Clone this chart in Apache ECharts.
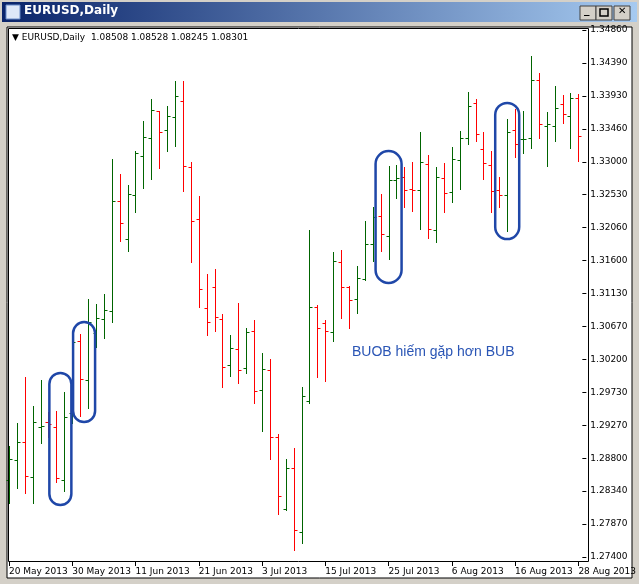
<!DOCTYPE html>
<html>
<head>
<meta charset="utf-8">
<script src="https://cdn.jsdelivr.net/npm/echarts@6/dist/echarts.min.js"></script>
<style>
  html, body { margin: 0; padding: 0; background: #d4d0c8; }
  #chart { width: 639px; height: 584px; }
</style>
</head>
<body>
<div id="chart"></div>
<script>
// ====== data (EURUSD daily, 20 May - 28 Aug 2013) ======
var opens = [1.28490,1.28773,1.29028,1.28532,1.29240,1.29311,1.29240,1.28490,1.29438,1.30457,
  1.29905,1.30571,1.30769,1.30882,1.32439,1.31901,1.32524,1.33076,1.33331,1.33713,
  1.33444,1.33628,1.33855,1.32921,1.32185,1.30925,1.31222,1.30769,1.30118,1.30344,
  1.30075,1.30599,1.29764,1.30047,1.29099,1.28079,1.28660,1.27754,1.29608,1.30939,
  1.30712,1.30585,1.31576,1.31222,1.31052,1.31335,1.31831,1.32227,1.31944,1.32737,
  1.32779,1.32609,1.32595,1.32963,1.32029,1.32765,1.32567,1.33020,1.33331,1.33827,
  1.33175,1.32949,1.32595,1.32524,1.33444,1.33317,1.33331,1.34152,1.33501,1.33501,
  1.33812,1.33643,1.33897];
var highs = [1.28971,1.29297,1.29948,1.29537,1.29905,1.29452,1.29467,1.29736,1.30585,1.30557,
  1.31052,1.30981,1.31123,1.33034,1.32822,1.32666,1.33147,1.33572,1.33883,1.33720,
  1.33784,1.34138,1.34138,1.32991,1.32510,1.31406,1.31477,1.30840,1.30542,1.30995,
  1.30642,1.30755,1.30288,1.30203,1.29141,1.28787,1.28943,1.29806,1.32029,1.30967,
  1.30755,1.31717,1.31746,1.31236,1.31519,1.32156,1.32354,1.32538,1.32935,1.32949,
  1.32921,1.32991,1.33416,1.33090,1.32921,1.32977,1.33204,1.33430,1.33982,1.33883,
  1.33416,1.33147,1.32779,1.33600,1.33742,1.33713,1.34492,1.34251,1.33699,1.34067,
  1.33940,1.33968,1.33954];
var lows = [1.28164,1.28377,1.28306,1.28164,1.29014,1.29099,1.28461,1.28334,1.29297,1.29396,
  1.29509,1.30373,1.30500,1.30726,1.31873,1.31732,1.32284,1.32623,1.32751,1.32906,
  1.33147,1.33218,1.32581,1.31576,1.30939,1.30542,1.30599,1.29806,1.29962,1.29863,
  1.30005,1.29580,1.29183,1.28787,1.28008,1.28065,1.27499,1.27598,1.29580,1.29948,
  1.29891,1.30457,1.30783,1.30642,1.30854,1.31321,1.31590,1.31732,1.31618,1.32482,
  1.32354,1.32298,1.32043,1.31916,1.31859,1.32284,1.32425,1.32609,1.33246,1.33289,
  1.32751,1.32284,1.32354,1.32015,1.33062,1.33119,1.33190,1.33331,1.32935,1.33289,
  1.33543,1.33190,1.33006];
var closes = [1.28787,1.29028,1.28546,1.29311,1.29254,1.29283,1.28518,1.29382,1.30443,1.29920,
  1.30726,1.30783,1.30896,1.32439,1.32128,1.32538,1.33119,1.33345,1.33728,1.33416,
  1.33643,1.33926,1.32935,1.32156,1.31194,1.30726,1.30797,1.30089,1.30358,1.30047,
  1.30585,1.29750,1.30061,1.29099,1.28263,1.28660,1.27782,1.29679,1.30939,1.30642,
  1.30599,1.31590,1.31222,1.31038,1.31349,1.31831,1.32213,1.31972,1.32737,1.32765,
  1.32595,1.32590,1.32991,1.32043,1.32779,1.32553,1.33034,1.33331,1.33784,1.33388,
  1.32977,1.32581,1.32524,1.33416,1.33246,1.33320,1.34152,1.33529,1.33529,1.33756,
  1.33671,1.33897,1.33359];

// price axis labels as MT4 prints them
var priceMin = 1.27400, priceMax = 1.34860;
var priceLabels = ['1.27400','1.27870','1.28340','1.28800','1.29270','1.29730','1.30200','1.30670',
  '1.31130','1.31600','1.32060','1.32530','1.33000','1.33460','1.33930','1.34390','1.34860'];
var priceStep = (priceMax - priceMin) / (priceLabels.length - 1);

// highlighted patterns: [bar index a, bar index b, low, high, half width px]
var marks = [
  [6, 7, 1.28136, 1.30005, 11],
  [9, 10, 1.29311, 1.30726, 11],
  [48, 48, 1.31279, 1.33147, 13],
  [63, 63, 1.31901, 1.33827, 12]
];
var noteText = 'BUOB hiếm gặp hơn BUB';

// trading days (weekdays) starting 20 May 2013
var months = ['Jan','Feb','Mar','Apr','May','Jun','Jul','Aug','Sep','Oct','Nov','Dec'];
var dates = [];
var d = new Date(2013, 4, 20);
while (dates.length < opens.length) {
    if (d.getDay() !== 0 && d.getDay() !== 6) {
        dates.push(d.getDate() + ' ' + months[d.getMonth()] + ' ' + d.getFullYear());
    }
    d.setDate(d.getDate() + 1);
}

var ohlc = [];
for (var i = 0; i < opens.length; i++) {
    ohlc.push([i, opens[i], highs[i], lows[i], closes[i]]);
}

var UP = '#006400', DOWN = '#ff0000';

function renderBar(params, api) {
    var x = Math.round(api.coord([api.value(0), api.value(1)])[0]) + 0.5;
    var yo = Math.round(api.coord([api.value(0), api.value(1)])[1]) + 0.5;
    var yh = Math.round(api.coord([api.value(0), api.value(2)])[1]);
    var yl = Math.round(api.coord([api.value(0), api.value(3)])[1]);
    var yc = Math.round(api.coord([api.value(0), api.value(4)])[1]) + 0.5;
    var col = api.value(4) >= api.value(1) ? UP : DOWN;
    var st = { stroke: col, lineWidth: 1 };
    return {
        type: 'group',
        children: [
            { type: 'line', shape: { x1: x, y1: yh, x2: x, y2: yl + 1 }, style: st },
            { type: 'line', shape: { x1: x - 3, y1: yo, x2: x, y2: yo }, style: st },
            { type: 'line', shape: { x1: x, y1: yc, x2: x + 3, y2: yc }, style: st }
        ]
    };
}

function renderMark(params, api) {
    var xa = api.coord([api.value(0), api.value(3)])[0];
    var xb = api.coord([api.value(1), api.value(3)])[0];
    var yt = api.coord([api.value(0), api.value(3)])[1];
    var yb = api.coord([api.value(0), api.value(2)])[1];
    var w = api.value(4);
    var cx = (xa + xb) / 2;
    return {
        type: 'rect',
        shape: { x: cx - w, y: yt, width: w * 2, height: yb - yt, r: w },
        style: { fill: 'none', stroke: '#1f47a8', lineWidth: 2.5 }
    };
}

var myChart = echarts.init(document.getElementById('chart'));
var option = {
    animation: false,
    backgroundColor: '#d4d0c8',
    grid: { left: 5, right: 50, top: 30, bottom: 27, show: false },
    xAxis: {
        type: 'category',
        data: dates,
        boundaryGap: true,
        offset: 5,
        axisLine: { show: false },
        axisTick: { show: true, interval: 7, alignWithLabel: true, length: 4, lineStyle: { color: '#000' } },
        axisLabel: {
            interval: 7, align: 'left', margin: 5,
            color: '#000', fontFamily: 'DejaVu Sans', fontSize: 9
        },
        splitLine: { show: false }
    },
    yAxis: {
        type: 'value',
        position: 'right',
        min: priceMin, max: priceMax, interval: priceStep,
        axisLine: { show: false },
        axisTick: { show: true, length: 4, lineStyle: { color: '#000' } },
        axisLabel: {
            margin: 8, color: '#000', fontFamily: 'DejaVu Sans', fontSize: 9,
            formatter: function (v) {
                return priceLabels[Math.round((v - priceMin) / priceStep)];
            }
        },
        splitLine: { show: false }
    },
    series: [
        {
            type: 'custom',
            renderItem: renderBar,
            encode: { x: 0, y: [1, 2, 3, 4] },
            data: ohlc,
            clip: true,
            z: 3
        },
        {
            type: 'custom',
            renderItem: renderMark,
            encode: { x: [0, 1], y: [2, 3] },
            data: marks,
            z: 4
        }
    ],
    graphic: [
        // window title bar
        { type: 'rect', shape: { x: 2, y: 2, width: 635, height: 20 },
          style: { fill: new echarts.graphic.LinearGradient(0, 0, 1, 0, [
              { offset: 0, color: '#0a246a' }, { offset: 1, color: '#a6caf0' }]) } },
        { type: 'rect', shape: { x: 6, y: 5, width: 14, height: 14 },
          style: { fill: '#dfe8f8', stroke: '#6a8cc8', lineWidth: 1 } },
        { type: 'text', left: 24, top: 5,
          style: { text: 'EURUSD,Daily', fill: '#fff', font: 'bold 12px "DejaVu Sans"' } },
        { type: 'rect', shape: { x: 580, y: 6, width: 16, height: 14 },
          style: { fill: '#d4d0c8', stroke: '#404040', lineWidth: 1 } },
        { type: 'rect', shape: { x: 596, y: 6, width: 16, height: 14 },
          style: { fill: '#d4d0c8', stroke: '#404040', lineWidth: 1 } },
        { type: 'rect', shape: { x: 614, y: 6, width: 16, height: 14 },
          style: { fill: '#d4d0c8', stroke: '#404040', lineWidth: 1 } },
        { type: 'text', left: 584, top: 5, style: { text: '_', fill: '#000', font: 'bold 11px "DejaVu Sans"' } },
        { type: 'rect', shape: { x: 600, y: 9, width: 8, height: 7 },
          style: { fill: 'none', stroke: '#000', lineWidth: 1.5 } },
        { type: 'text', left: 618, top: 6, style: { text: '✕', fill: '#000', font: 'bold 10px "DejaVu Sans"' } },
        // chart client area
        { type: 'rect', z: -10, shape: { x: 7, y: 27, width: 625, height: 551 },
          style: { fill: '#fff', stroke: '#000', lineWidth: 1 } },
        // plot frame
        { type: 'rect', z: 10, shape: { x: 8.5, y: 28.5, width: 580, height: 533 },
          style: { fill: 'none', stroke: '#000', lineWidth: 1 } },
        { type: 'text', left: 12, top: 33,
          style: { text: '▼ EURUSD,Daily  1.08508 1.08528 1.08245 1.08301', fill: '#000', font: '9px "DejaVu Sans"' } },
        { type: 'text', left: 352, top: 345,
          style: { text: noteText, fill: '#2a55b5', font: '14px "Liberation Sans"' } }
    ]
};
myChart.setOption(option);
</script>
</body>
</html>
